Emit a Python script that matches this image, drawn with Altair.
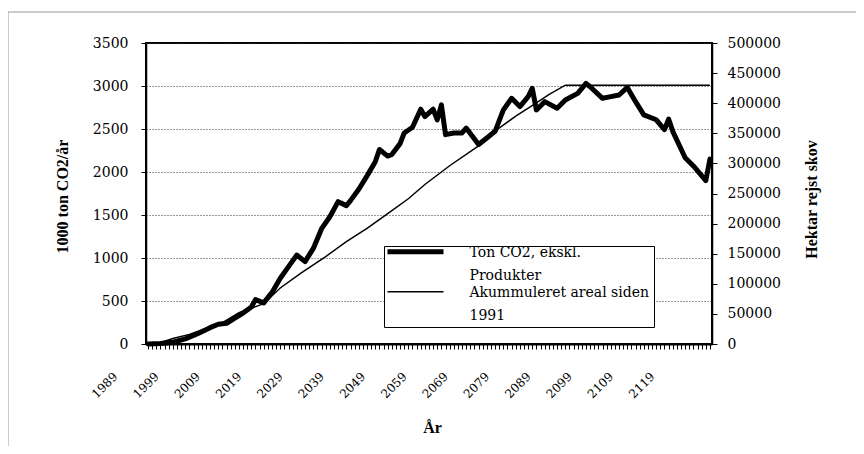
import altair as alt
import pandas as pd

# ---- data ----
co2_years = [1989, 1992, 1995, 1998, 2001, 2004, 2006, 2008, 2010, 2012, 2014, 2015, 2017,
             2019, 2021, 2023, 2025, 2027, 2029, 2031, 2033, 2035, 2037, 2038, 2040, 2042,
             2044, 2045, 2047, 2048, 2050, 2051, 2053, 2055, 2056, 2058, 2059, 2060, 2061,
             2063, 2065, 2066, 2069, 2071, 2073, 2075, 2077, 2079, 2081, 2082, 2083, 2085,
             2088, 2090, 2093, 2095, 2096, 2099, 2101, 2103, 2105, 2107, 2109, 2112, 2114,
             2115, 2116, 2119, 2121, 2124, 2125]
co2_values = [0, 5, 20, 60, 120, 190, 230, 240, 300, 360, 430, 516, 478,
              600, 765, 900, 1034, 958, 1111, 1341, 1480, 1655, 1609, 1667, 1800, 1955,
              2120, 2262, 2185, 2204, 2330, 2454, 2520, 2730, 2645, 2730, 2607, 2780, 2434,
              2454, 2454, 2511, 2319, 2396, 2473, 2722, 2857, 2761, 2876, 2972, 2722, 2818,
              2742, 2838, 2914, 3030, 2991, 2857, 2876, 2895, 2983, 2818, 2665, 2607, 2492,
              2615, 2473, 2166, 2070, 1900, 2150]

areal_years = [1991, 1995, 1999, 2003, 2007, 2011, 2017, 2021, 2026, 2032, 2037, 2042,
               2047, 2052, 2056, 2062, 2069, 2073, 2078, 2083, 2086, 2090, 2125]
areal_values = [0, 9000, 16000, 26000, 35400, 51900, 67000, 93000, 117800, 145300, 170000,
                191900, 216600, 241300, 265000, 296100, 329100, 353800, 378500, 400500,
                414200, 430000, 430000]

x_label_years = [1989, 1999, 2009, 2019, 2029, 2039, 2049, 2059, 2069, 2079, 2089, 2099,
                 2109, 2119]
left_ticks = [0, 500, 1000, 1500, 2000, 2500, 3000, 3500]
right_ticks = [0, 50000, 100000, 150000, 200000, 250000, 300000, 350000, 400000, 450000,
               500000]

SERIES_CO2 = "Ton CO2, ekskl. Produkter"
SERIES_AREAL = "Akummuleret areal siden 1991"
LEFT_TITLE = "1000 ton CO2/år"
RIGHT_TITLE = "Hektar rejst skov"
X_TITLE = "År"

co2_df = pd.DataFrame({"year": co2_years, "value": co2_values, "series": SERIES_CO2})
areal_df = pd.DataFrame({"year": areal_years, "value": areal_values, "series": SERIES_AREAL})

FONT = "Liberation Serif"
LABEL_FONT = "DejaVu Serif"

label_list = ",".join(str(v) for v in x_label_years)
x_enc = alt.X(
    "year:Q",
    scale=alt.Scale(domain=[1988.5, 2125.5], nice=False, zero=False),
    axis=alt.Axis(
        values=list(range(1989, 2126)),
        labelExpr=f"indexof([{label_list}], datum.value) >= 0 ? toString(datum.value) : ''",
        labelAngle=-45, labelAlign="right", labelBaseline="middle",
        labelOffset=-33, labelPadding=25, tickSize=5, labelFontSize=12,
        labelOverlap=False, labelFlush=False, labelBound=False,
        title=X_TITLE, titleX=286, titleY=83, titleBaseline="middle", titleAlign="center",
        titleFontWeight="bold", titleFontSize=16, grid=False, domainWidth=2,
    ),
)

stroke_w = alt.StrokeWidth(
    "series:N",
    scale=alt.Scale(domain=[SERIES_CO2, SERIES_AREAL], range=[5, 1.5]),
    legend=alt.Legend(
        title=None, orient="none", legendX=238, legendY=203, direction="vertical",
        symbolType="M-7,-1.3L7,-1.3", symbolSize=64, symbolOffset=20.5,
        symbolStrokeColor="black", symbolFillColor="black",
        labelFont=LABEL_FONT, labelFontSize=14, labelColor="black",
        labelExpr=("datum.label == '" + SERIES_CO2 + "' ? ['Ton CO2, ekskl.', 'Produkter']"
                   " : ['Akummuleret areal siden', '1991']"),
        labelBaseline="alphabetic", labelOffset=47, labelLimit=400,
        padding=4, strokeColor="black", fillColor="white", rowPadding=3,
    ),
)

co2_line = alt.Chart(co2_df).mark_line(color="black", strokeJoin="round", strokeCap="round").encode(
    x=x_enc,
    y=alt.Y(
        "value:Q",
        scale=alt.Scale(domain=[0, 3500], nice=False),
        axis=alt.Axis(
            values=left_ticks, orient="left", title=LEFT_TITLE, titleAngle=270,
            titleX=-84, titleY=153, titleBaseline="middle", titleAlign="center",
            titleFontWeight="bold", titleFontSize=16, tickSize=5, labelPadding=13,
            format="d",
            grid=True, gridColor="#333", gridOpacity=1, gridDash=[1, 2], gridWidth=1,
            domainWidth=1.5,
        ),
    ),
    strokeWidth=stroke_w,
    order="year:Q",
)

areal_line = alt.Chart(areal_df).mark_line(color="black").encode(
    x=x_enc,
    y=alt.Y(
        "value:Q",
        scale=alt.Scale(domain=[0, 500000], nice=False),
        axis=alt.Axis(
            values=right_ticks, orient="right", title=RIGHT_TITLE, titleAngle=270,
            titleX=99, titleY=156, titleBaseline="middle", titleAlign="center",
            titleFontWeight="bold", titleFontSize=16, tickSize=5, labelPadding=10,
            grid=False, domainWidth=1.5, format="d",
        ),
    ),
    strokeWidth=stroke_w,
    order="year:Q",
)

frame = alt.Chart(pd.DataFrame({"f": [0]})).mark_rect(
    filled=False, stroke="#999", strokeWidth=1
).encode(
    x=alt.value(-138), x2=alt.value(730), y=alt.value(-31), y2=alt.value(420)
)

chart = (
    alt.layer(frame, areal_line, co2_line)
    .resolve_scale(y="independent")
    .properties(
        width=566, height=301,
        autosize=alt.AutoSizeParams(type="none"),
        padding={"left": 138, "top": 35, "right": 144, "bottom": 102},
        background="white",
    )
    .configure(style={"guide-label": {"lineHeight": 23}})
    .configure_view(stroke="black", strokeWidth=2)
    .configure_axis(
        labelFont=LABEL_FONT, labelFontSize=14, labelColor="black",
        titleFont=FONT, titleColor="black",
        domainColor="black", tickColor="black",
    )
)

chart.save("out.html", embed_options={"renderer": "svg", "actions": False})
